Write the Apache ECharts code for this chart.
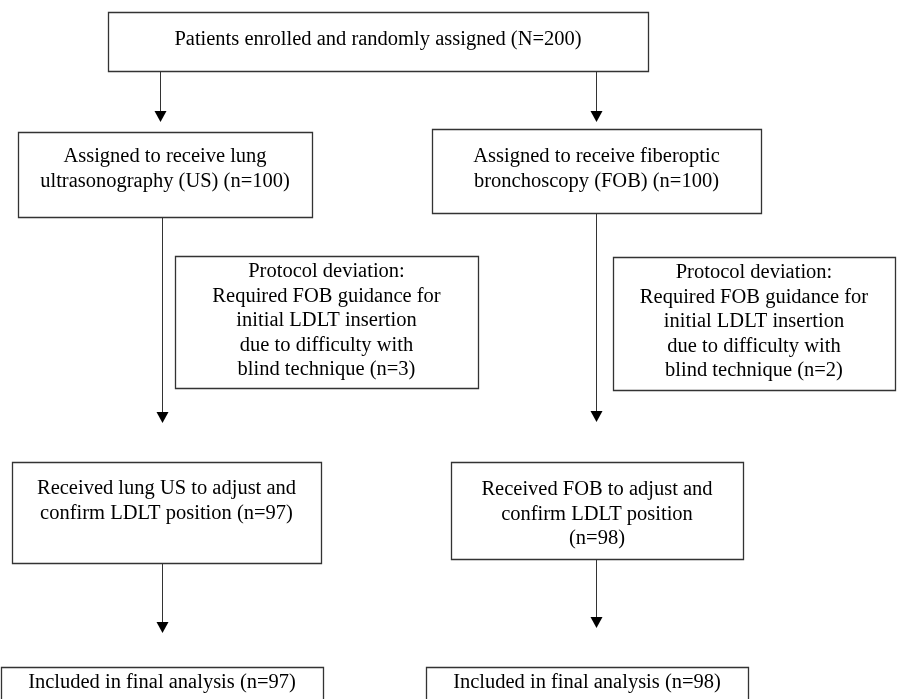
<!DOCTYPE html>
<html>
<head>
<meta charset="utf-8">
<script src="https://cdn.jsdelivr.net/npm/echarts@6/dist/echarts.min.js"></script>
<style>
html,body{margin:0;padding:0;background:#fff;}
#chart{width:897px;height:699px;}
</style>
</head>
<body>
<div id="chart"></div>
<script>
// ---- content (text and counts) ----
const stageNames = ['enrolled','assignUS','assignFOB','devUS','devFOB','recvUS','recvFOB','finalUS','finalFOB'];
const counts = [200, 100, 100, 3, 2, 97, 98, 97, 98];
const boxLines = [
  ['Patients enrolled and randomly assigned (N=' + counts[0] + ')'],
  ['Assigned to receive lung', 'ultrasonography (US) (n=' + counts[1] + ')'],
  ['Assigned to receive fiberoptic', 'bronchoscopy (FOB) (n=' + counts[2] + ')'],
  ['Protocol deviation:', 'Required FOB guidance for', 'initial LDLT insertion', 'due to difficulty with', 'blind technique (n=' + counts[3] + ')'],
  ['Protocol deviation:', 'Required FOB guidance for', 'initial LDLT insertion', 'due to difficulty with', 'blind technique (n=' + counts[4] + ')'],
  ['Received lung US to adjust and', 'confirm LDLT position (n=' + counts[5] + ')'],
  ['Received FOB to adjust and', 'confirm LDLT position', '(n=' + counts[6] + ')'],
  ['Included in final analysis (n=' + counts[7] + ')'],
  ['Included in final analysis (n=' + counts[8] + ')']
];

// ---- layout (positions in chart units; separate from data) ----
// [x0, y0, x1, y1, firstLineCenterOffset]
const boxLayout = [
  [108, 12, 648, 71, 28],
  [18, 132, 312, 217, 25],
  [432, 129, 761, 213, 28],
  [175, 256, 478, 388, 16],
  [613, 257, 895, 390, 16],
  [12, 462, 321, 563, 27],
  [451, 462, 743, 559, 28],
  [1, 667, 323, 720, 16],
  [426, 667, 748, 720, 16]
];
// [x, yStart, yTip]
const arrowLayout = [
  [160, 71, 122],
  [596, 71, 122],
  [162, 217, 423],
  [596, 213, 422],
  [162, 563, 633],
  [596, 559, 628]
];

const LINE_H = 24.5;
const FONT = '20.5px "Liberation Serif", "Times New Roman", serif';

const boxData = boxLayout.map((b, i) => ({ value: [b[0], b[1], b[2], b[3], b[4], i], name: stageNames[i] }));
const arrowData = arrowLayout.map(a => [a[0], a[1], a[2]]);

const chart = echarts.init(document.getElementById('chart'), null, { renderer: 'canvas' });
chart.setOption({
  animation: false,
  backgroundColor: '#ffffff',
  grid: { left: 0, right: 0, top: 0, bottom: 0 },
  xAxis: { type: 'value', min: 0, max: 897, show: false },
  yAxis: { type: 'value', min: 0, max: 699, inverse: true, show: false },
  series: [
    {
      type: 'custom',
      coordinateSystem: 'cartesian2d',
      data: arrowData,
      renderItem: function (params, api) {
        const p0 = api.coord([api.value(0), api.value(1)]);
        const p1 = api.coord([api.value(0), api.value(2)]);
        const hw = 6, hh = 11;
        return {
          type: 'group',
          children: [
            { type: 'line', shape: { x1: Math.round(p0[0]) + 0.5, y1: p0[1], x2: Math.round(p1[0]) + 0.5, y2: p1[1] - hh + 1 },
              style: { stroke: '#333', lineWidth: 1 } },
            { type: 'polygon', shape: { points: [[p1[0] + 0.5 - hw, p1[1] - hh], [p1[0] + 0.5 + hw, p1[1] - hh], [p1[0] + 0.5, p1[1]]] },
              style: { fill: '#000' } }
          ]
        };
      }
    },
    {
      type: 'custom',
      coordinateSystem: 'cartesian2d',
      data: boxData,
      renderItem: function (params, api) {
        const a = api.coord([api.value(0), api.value(1)]);
        const b = api.coord([api.value(2), api.value(3)]);
        const off = api.value(4);
        const idx = api.value(5);
        const lines = boxLines[idx];
        const cx = (a[0] + b[0]) / 2;
        const children = [
          { type: 'rect', shape: { x: Math.round(a[0]) + 0.5, y: Math.round(a[1]) + 0.5, width: Math.round(b[0] - a[0]), height: Math.round(b[1] - a[1]) },
            style: { fill: '#fff', stroke: '#333', lineWidth: 1.3 } }
        ];
        lines.forEach((t, k) => {
          children.push({
            type: 'text',
            style: { text: t, x: cx, y: a[1] + off + k * LINE_H, align: 'center', verticalAlign: 'middle', font: FONT, fill: '#000' }
          });
        });
        return { type: 'group', children: children };
      }
    }
  ]
});
</script>
</body>
</html>
